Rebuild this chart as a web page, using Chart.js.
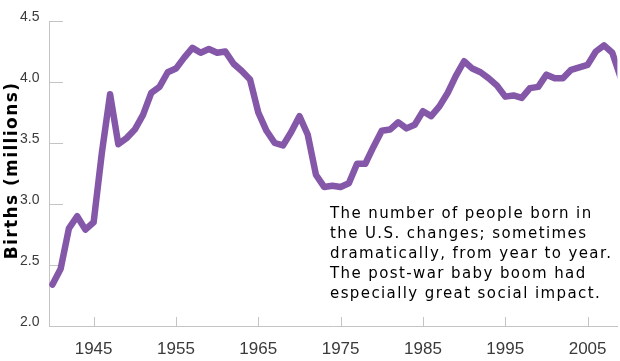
<!DOCTYPE html>
<html>
<head>
<meta charset="utf-8">
<script src="https://cdn.jsdelivr.net/npm/chart.js@4.4.1/dist/chart.umd.min.js"></script>
<style>
    body { margin: 0; background: #fff; }
    #wrap { width: 620px; height: 361px; }
</style>
</head>
<body>
<div id="wrap"><canvas id="birthsChart" width="620" height="361"></canvas></div>
<script>
// US births per year, millions
const years = [
    1940, 1941, 1942, 1943, 1944, 1945, 1946, 1947, 1948, 1949,
    1950, 1951, 1952, 1953, 1954, 1955, 1956, 1957, 1958, 1959,
    1960, 1961, 1962, 1963, 1964, 1965, 1966, 1967, 1968, 1969,
    1970, 1971, 1972, 1973, 1974, 1975, 1976, 1977, 1978, 1979,
    1980, 1981, 1982, 1983, 1984, 1985, 1986, 1987, 1988, 1989,
    1990, 1991, 1992, 1993, 1994, 1995, 1996, 1997, 1998, 1999,
    2000, 2001, 2002, 2003, 2004, 2005, 2006, 2007, 2008, 2009
];
const births = [
    2.34, 2.47, 2.80, 2.90, 2.79, 2.85, 3.42, 3.90, 3.49, 3.54,
    3.61, 3.73, 3.91, 3.96, 4.08, 4.11, 4.20, 4.28, 4.24, 4.27,
    4.24, 4.25, 4.15, 4.09, 4.02, 3.75, 3.60, 3.50, 3.48, 3.59,
    3.72, 3.57, 3.24, 3.14, 3.15, 3.14, 3.17, 3.33, 3.33, 3.47,
    3.60, 3.61, 3.67, 3.62, 3.65, 3.76, 3.72, 3.80, 3.91, 4.05,
    4.17, 4.11, 4.08, 4.03, 3.97, 3.88, 3.89, 3.87, 3.95, 3.96,
    4.06, 4.03, 4.03, 4.10, 4.12, 4.14, 4.25, 4.30, 4.24, 4.04
];
const xTicks = [1945, 1955, 1965, 1975, 1985, 1995, 2005];
const yTicks = [2.0, 2.5, 3.0, 3.5, 4.0, 4.5];
const axisTitle = 'Births (millions)';
const noteLines = [
    'The number of people born in',
    'the U.S. changes; sometimes',
    'dramatically, from year to year.',
    'The post-war baby boom had',
    'especially great social impact.'
];

const axisGray = '#c4c4c4';

// short tick marks pointing into the plot, like the original
const innerTicks = {
    id: 'innerTicks',
    beforeDatasetsDraw(chart) {
        const { ctx, chartArea, scales: { x, y } } = chart;
        ctx.save();
        ctx.strokeStyle = axisGray;
        ctx.lineWidth = 1;
        ctx.beginPath();
        yTicks.forEach(v => {
            const py = Math.round(y.getPixelForValue(v)) + 0.5;
            ctx.moveTo(chartArea.left, py);
            ctx.lineTo(chartArea.left + 14, py);
        });
        xTicks.forEach(v => {
            const px = Math.round(x.getPixelForValue(v)) + 0.5;
            ctx.moveTo(px, chartArea.bottom);
            ctx.lineTo(px, chartArea.bottom - 9);
        });
        ctx.stroke();
        ctx.restore();
    }
};

// rotated axis title and the note in the lower right
const textLayer = {
    id: 'textLayer',
    afterDraw(chart) {
        const { ctx, chartArea } = chart;
        ctx.save();
        ctx.fillStyle = '#000';
        ctx.letterSpacing = '1.4px';

        ctx.save();
        ctx.font = 'bold 17px "DejaVu Sans"';
        ctx.textAlign = 'center';
        ctx.textBaseline = 'alphabetic';
        ctx.translate(16.5, (chartArea.top + chartArea.bottom) / 2 - 3);
        ctx.rotate(-Math.PI / 2);
        ctx.fillText(axisTitle, 0, 0);
        ctx.restore();

        ctx.font = '15px "DejaVu Sans"';
        ctx.textAlign = 'left';
        ctx.textBaseline = 'alphabetic';
        noteLines.forEach((line, i) => {
            ctx.fillText(line, 330, 217.5 + i * 20);
        });
        ctx.restore();
    }
};

const canvas = document.getElementById('birthsChart');
new Chart(canvas, {
    type: 'line',
    data: {
        labels: years,
        datasets: [{
            label: 'Births',
            data: years.map((yr, i) => ({ x: yr, y: births[i] })),
            borderColor: '#8557a8',
            borderWidth: 6.5,
            borderJoinStyle: 'round',
            borderCapStyle: 'round',
            pointRadius: 0,
            tension: 0,
            fill: false
        }]
    },
    options: {
        responsive: false,
        animation: false,
        devicePixelRatio: 1,
        layout: { padding: { top: 21, right: 0, bottom: 0, left: 0 } },
        plugins: {
            legend: { display: false },
            tooltip: { enabled: false }
        },
        scales: {
            x: {
                type: 'linear',
                min: 1939.58,
                max: 2008.62,
                grid: { display: false, drawTicks: false, tickLength: 0 },
                border: { color: axisGray, width: 1 },
                afterBuildTicks: scale => {
                    scale.ticks = xTicks.map(v => ({ value: v }));
                },
                afterFit: scale => { scale.height = 35; },
                ticks: {
                    color: '#3a3a3a',
                    font: { family: '"Liberation Sans Narrow", "Liberation Sans"', size: 17 },
                    padding: 13.5,
                    maxRotation: 0,
                    callback: v => String(v)
                }
            },
            y: {
                min: 2.0,
                max: 4.5,
                grid: { display: false, drawTicks: false, tickLength: 0 },
                border: { color: axisGray, width: 1 },
                afterBuildTicks: scale => {
                    scale.ticks = yTicks.map(v => ({ value: v }));
                },
                afterFit: scale => { scale.width = 49; },
                ticks: {
                    color: '#3a3a3a',
                    font: { family: '"Liberation Sans"', size: 14 },
                    padding: 9.5,
                    labelOffset: -3.5,
                    callback: v => Number(v).toFixed(1)
                }
            }
        }
    },
    plugins: [innerTicks, textLayer]
});
</script>
</body>
</html>
